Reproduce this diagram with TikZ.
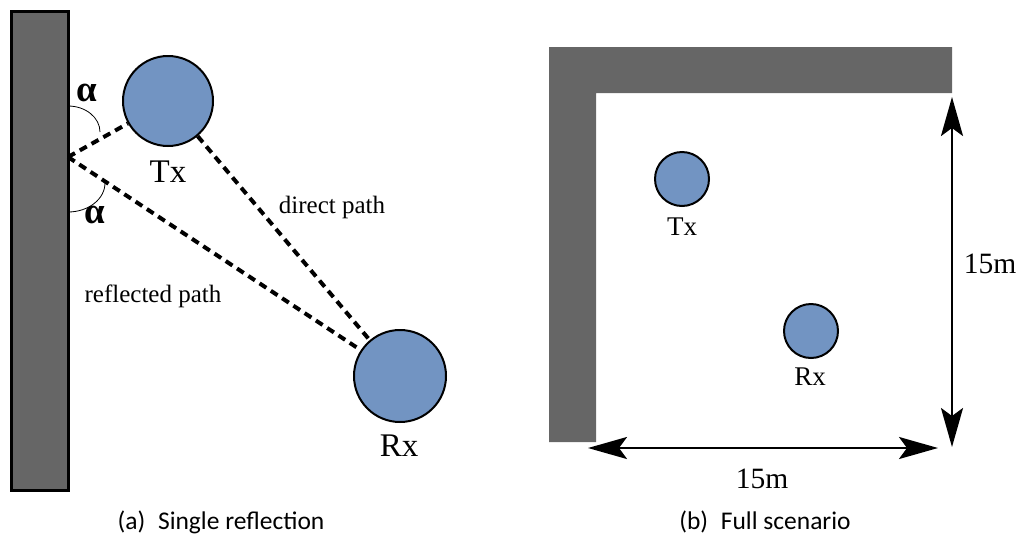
\documentclass[tikz,border=0pt]{standalone}
\usepackage{fontspec}
\setmainfont{Liberation Serif}
\newfontfamily\capfont{Carlito}
\usetikzlibrary{arrows.meta}
\definecolor{wallgray}{RGB}{102,102,102}
\definecolor{devblue}{RGB}{114,148,194}
\tikzset{
  >={Stealth[length=39pt,width=22pt,inset=8pt]},
  dev/.style  ={circle, draw, line width=2pt, fill=devblue, inner sep=0pt},
  ray/.style  ={line width=4pt, dash pattern=on 8pt off 5.5pt},
  dim/.style  ={line width=2.5pt, <->},
  big/.style  ={anchor=base, font=\fontsize{33}{38}\selectfont},
  mid/.style  ={anchor=base, font=\fontsize{27}{32}\selectfont},
  meas/.style ={anchor=base, font=\fontsize{29.5}{34}\selectfont},
  small/.style={anchor=base, font=\fontsize{25}{30}\selectfont},
  angl/.style ={anchor=base, font=\fontsize{37}{42}\selectfont\bfseries},
  capt/.style ={anchor=base, font=\capfont\fontsize{25.5}{30}\selectfont},
}

\begin{document}
\begin{tikzpicture}[x=1pt,y=-1pt]
  \useasboundingbox (0,0) rectangle (1022,536);

  % left panel: single reflection
  \draw[fill=wallgray, line width=3pt] (11,11) rectangle (68,490);
  \coordinate (refl) at (68,157);

  \node[dev, minimum size=90pt] (tx) at (168,101) {};
  \node[dev, minimum size=92pt] (rx) at (400,376) {};
  \node[big] (txlbl) at (168,182) {Tx};
  \node[big] (rxlbl) at (399,456) {Rx};

  \draw[ray] (refl) -- (tx);
  \draw[ray] (refl) -- (rx);
  \draw[ray] (tx) -- (rx);
  \node[small] (direct) at (332,213) {direct path};
  \node[small] (reflected) at (153,302) {reflected path};

  % angle marks
  \draw[line width=0.8pt] (68,106) .. controls (85.7,106) and (100,117.6) .. (100,132);
  \draw[line width=0.8pt] (105,183) .. controls (105,199) and (88.4,212) .. (68,212);
  \node[angl] (alup) at (87,101) {α};
  \node[angl] (aldown) at (95,223) {α};

  % right panel: full scenario
  \fill[wallgray] (549,47) -- (952,47) -- (952,93) -- (596,93) -- (596,442) -- (549,442) -- cycle;
  \node[dev, minimum size=54pt] (tx2) at (682,179) {};
  \node[dev, minimum size=54pt] (rx2) at (811,331) {};
  \node[mid] (tx2lbl) at (682,235) {Tx};
  \node[mid] (rx2lbl) at (810,385) {Rx};

  % dimensions
  \coordinate (vtop) at (952,97);
  \coordinate (vbot) at (952,447);
  \coordinate (hleft) at (588,448);
  \coordinate (hright) at (938,448);
  \draw[dim] (vtop) -- (vbot);
  \draw[dim] (hleft) -- (hright);
  \node[meas] (vlen) at (990,273) {15m};
  \node[meas] (hlen) at (762,488) {15m};

  % captions
  \node[capt] (capa) at (221,529) {(a)\enspace Single reflection};
  \node[capt] (capb) at (765,529) {(b)\enspace Full scenario};
\end{tikzpicture}
\end{document}
